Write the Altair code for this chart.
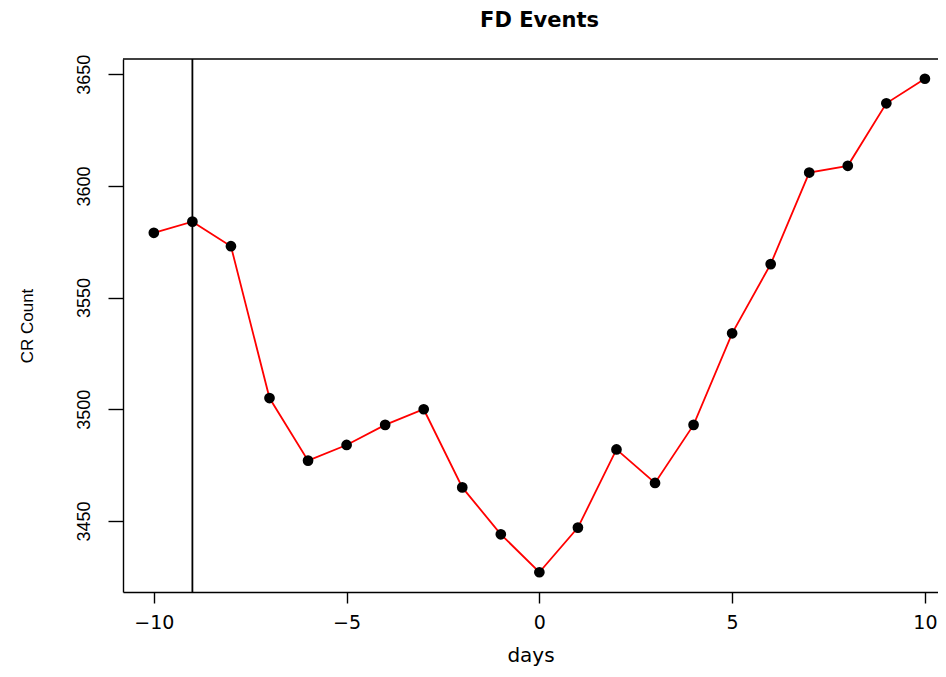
import altair as alt
import pandas as pd

# ---- data ----
days = list(range(-10, 11))
cr_count = [3579, 3584, 3573, 3505, 3477, 3484, 3493, 3500, 3465, 3444, 3427,
            3447, 3482, 3467, 3493, 3534, 3565, 3606, 3609, 3637, 3648]
event_day = [-9]
x_ticks = [-10, -5, 0, 5, 10]
y_ticks = [3450, 3500, 3550, 3600, 3650]

W, H = 815, 533
x_dom = [-10.8, 10.34]
y_dom = [3418.16, 3656.84]

df = pd.DataFrame({"days": days, "count": cr_count})
ev = pd.DataFrame({"days": event_day})
frame = pd.DataFrame({"k": [0]})

xs = alt.Scale(domain=x_dom, nice=False, zero=False)
ys = alt.Scale(domain=y_dom, nice=False, zero=False)

x_axis = alt.Axis(values=x_ticks, title="days", format="d", tickSize=11, labelPadding=25,
                  labelBaseline="alphabetic", labelFont="DejaVu Sans", labelFontSize=19,
                  labelFlush=False, labelOverlap=False,
                  titleY=69, titleBaseline="alphabetic", titleFont="DejaVu Sans",
                  titleFontSize=20, titleFontWeight="normal")
y_axis = alt.Axis(values=y_ticks, title="CR Count", format="d", tickSize=15, labelPadding=19,
                  labelAngle=270, labelAlign="center", labelBaseline="alphabetic",
                  labelFont="Liberation Sans", labelFontSize=18,
                  labelFlush=False, labelOverlap=False,
                  titleAngle=270, titleX=-91, titleY=H / 2, titleAlign="center",
                  titleBaseline="alphabetic", titleFont="Liberation Sans",
                  titleFontSize=17, titleFontWeight="normal")

line = alt.Chart(df).mark_line(color="#FF0000", strokeWidth=1.8).encode(
    x=alt.X("days:Q", scale=xs, axis=x_axis),
    y=alt.Y("count:Q", scale=ys, axis=y_axis),
)
pts = alt.Chart(df).mark_circle(size=115, color="black", opacity=1).encode(
    x=alt.X("days:Q", scale=xs, axis=x_axis),
    y=alt.Y("count:Q", scale=ys, axis=y_axis),
)
vline = alt.Chart(ev).mark_rule(color="black", strokeWidth=1.8).encode(
    x=alt.X("days:Q", scale=xs, axis=x_axis)
)
top = alt.Chart(frame).mark_rule(color="black", strokeWidth=1.4).encode(
    x=alt.value(0), x2=alt.value(W), y=alt.value(0)
)

chart = alt.layer(line, vline, top, pts).properties(
    width=W, height=H,
    title=alt.TitleParams("FD Events", font="DejaVu Sans", fontSize=21,
                          fontWeight="bold", anchor="middle", baseline="alphabetic",
                          offset=6, dx=9, color="black"),
    autosize=alt.AutoSizeParams(type="none"),
    padding={"left": 115, "top": 51, "right": 0, "bottom": 75},
).configure_view(stroke=None).configure_axis(
    domainColor="black", tickColor="black", labelColor="black", titleColor="black",
    domainWidth=1.4, tickWidth=1.4, grid=False
)

chart.save("out.html", embed_options={"renderer": "svg", "actions": False})
